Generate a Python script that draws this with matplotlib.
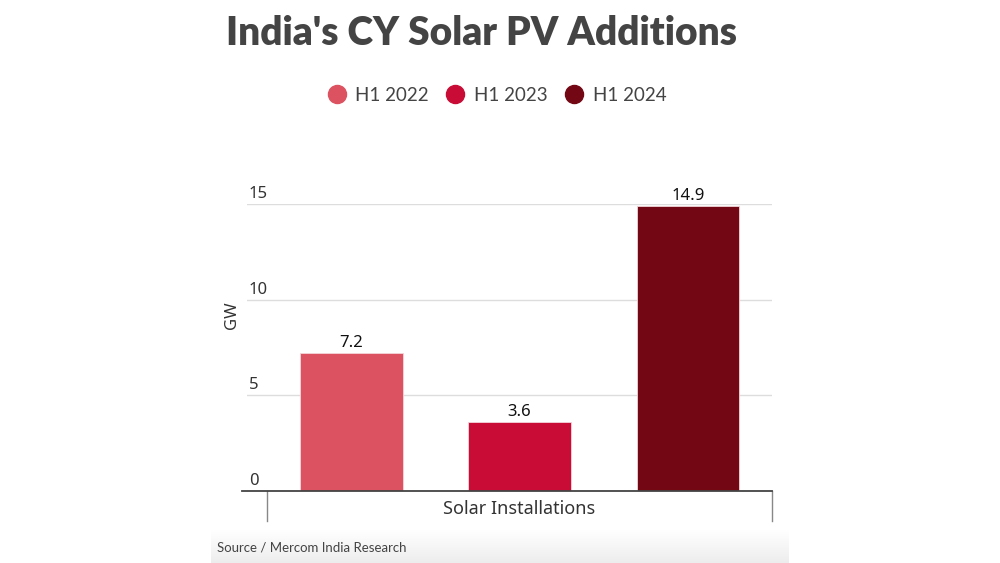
import numpy as np
import matplotlib
matplotlib.use("Agg")
import matplotlib.pyplot as plt
from matplotlib.lines import Line2D

series = ["H1 2022", "H1 2023", "H1 2024"]
values = [7.2, 3.6, 14.9]
colors = ["#DC5260", "#C80C35", "#730714"]
category = "Solar Installations"
yticks = [0, 5, 10, 15]

fig = plt.figure(figsize=(10, 5.63), dpi=100)

# source strip with soft gradient (drawn first so it sits behind)
src = fig.add_axes([0.211, 0.0, 0.578, 0.058])
grad = np.linspace(1.0, 0.93, 50).reshape(-1, 1)
src.imshow(np.dstack([grad, grad, grad]), aspect="auto", extent=[0, 1, 0, 1])
src.set_axis_off()
fig.text(0.217, 0.028, "Source / Mercom India Research", fontsize=9.5,
         family="Lato", color="#444444", va="center")

ax = fig.add_axes([0.247, 1 - 491 / 563, 0.525, (491 - 204) / 563])
x = np.arange(len(values))
ax.bar(x, values, width=0.61, color=colors, edgecolor="#f3d6da", linewidth=0.6, zorder=3)
for xi, v in zip(x, values):
    ax.text(xi, v + 0.12, f"{v}", ha="center", va="bottom", fontsize=12,
            family="Noto Sans", color="#111111")

ax.set_xlim(-0.62, 2.5)
ax.set_ylim(0, 15)
ax.set_yticks(yticks)
ax.yaxis.grid(True, color="#dddddd", linewidth=1, zorder=0)
ax.tick_params(left=False, bottom=False, labelleft=False, labelbottom=False)
for s in ax.spines.values():
    s.set_visible(False)
ax.axhline(0, color="#444444", linewidth=1.3, zorder=4, xmin=-0.01, clip_on=False)
for yt in yticks:
    ax.text(-0.61, yt + 0.1, str(yt), ha="left", va="bottom", fontsize=12,
            family="Noto Sans", color="#333333")

# category separators under the axis
for xs in [-0.5, 2.5]:
    ax.plot([xs, xs], [0, -1.57], color="#888888", linewidth=1, clip_on=False)
ax.text(1.0, -0.95, category, ha="center", va="center", fontsize=13,
        family="Noto Sans", color="#333333")
ax.text(-0.71, 9.2, "GW", rotation=90, ha="center", va="center", fontsize=12,
        family="Noto Sans", color="#333333")

fig.text(0.481, 0.94, "India's CY Solar PV Additions", ha="center", va="center",
         fontsize=28, family="Lato", weight="heavy", color="#444444")

handles = [Line2D([], [], marker="o", linestyle="", markersize=13, color=c) for c in colors]
fig.legend(handles, series, loc="center", bbox_to_anchor=(0.492, 0.831), ncol=3,
           frameon=False, prop={"family": "Lato", "size": 13.5}, handletextpad=0.0,
           columnspacing=0.4, labelcolor="#444444")

fig.savefig("out.png", dpi=100)
